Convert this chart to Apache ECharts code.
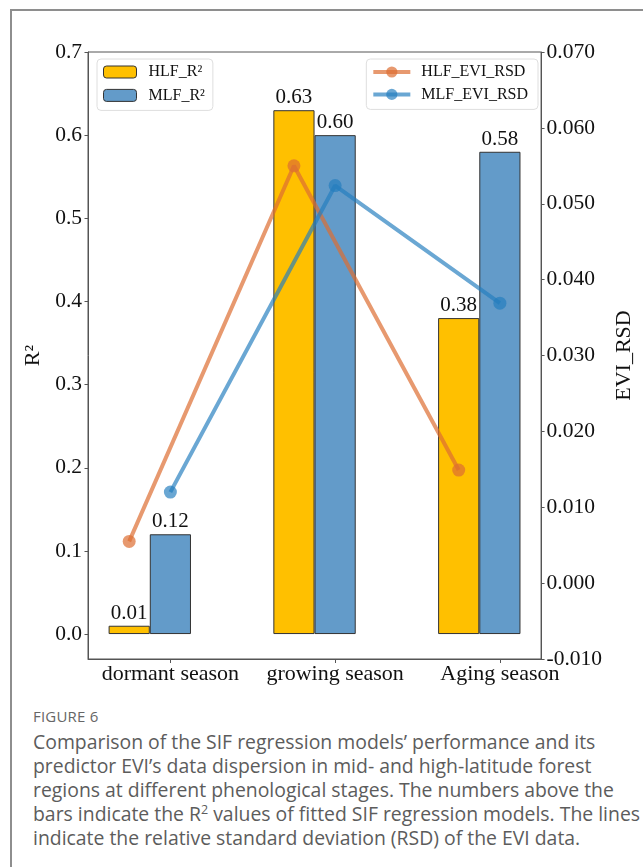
<!DOCTYPE html>
<html>
<head>
<meta charset="utf-8">
<script src="https://cdn.jsdelivr.net/npm/echarts@6/dist/echarts.min.js"></script>
<style>
  html, body { margin: 0; padding: 0; background: #fff; }
  #page { position: relative; width: 643px; height: 867px; overflow: hidden; }
  #frame { position: absolute; left: 10px; top: 9px; width: 700px; height: 900px;
           border-left: 2px solid #8e8e8e; border-top: 2px solid #8e8e8e; }
  #chart { position: absolute; left: 0; top: 0; width: 643px; height: 700px; }
  #caption { position: absolute; left: 33px; top: 706px; width: 610px;
             font-family: 'Open Sans', sans-serif; color: #5c5c5c; }
  #caption .fig { font-size: 15px; line-height: 21px; color: #666; letter-spacing: 0.2px; }
  #caption .txt { font-size: 19.4px; line-height: 23.9px; margin-top: 3px; white-space: nowrap; }
  #caption sup { font-size: 12.5px; line-height: 0; }
</style>
</head>
<body>
<div id="page">
  <div id="frame"></div>
  <div id="chart"></div>
  <div id="caption">
    <div class="fig">FIGURE 6</div>
    <div class="txt">Comparison of the SIF regression models’ performance and its<br>predictor EVI’s data dispersion in mid- and high-latitude forest<br>regions at different phenological stages. The numbers above the<br>bars indicate the R<sup>2</sup> values of fitted SIF regression models. The lines<br>indicate the relative standard deviation (RSD) of the EVI data.</div>
  </div>
</div>
<script>
// Phenological stages along the x axis
const categories = ['dormant season', 'growing season', 'Aging season'];

// R² of the SIF regression models (bars, left axis)
const hlfR2 = [0.01, 0.63, 0.38];
const mlfR2 = [0.12, 0.60, 0.58];

// Relative standard deviation of EVI (lines, right axis)
const hlfEviRsd = [0.0055, 0.0550, 0.0149];
const mlfEviRsd = [0.0120, 0.0524, 0.0369];

// Tick values for the left axis
const r2Ticks = [0, 0.1, 0.2, 0.3, 0.4, 0.5, 0.6, 0.7];
const categoryTicks = categories.map((c, i) => i);

// Bars of one group sit side by side; the MLF bar is centred on the tick
const groupShift = -0.125;
const hlfShift = -0.25;

const serif = "'Liberation Serif', 'DejaVu Serif', serif";
const axisColor = '#555';
const textColor = '#111';

const chart = echarts.init(document.getElementById('chart'), null, { renderer: 'canvas' });

const barLabel = {
  show: true,
  position: 'top',
  distance: 2,
  fontFamily: serif,
  fontSize: 21,
  color: textColor,
  formatter: p => p.value[1].toFixed(2)
};

chart.setOption({
  animation: false,
  backgroundColor: 'transparent',
  grid: {
    left: 88, right: 96, top: 52, bottom: 41,
    show: true, borderColor: axisColor, borderWidth: 1
  },
  legend: [
    {
      data: ['HLF_R²', 'MLF_R²'],
      orient: 'vertical',
      left: 97, top: 59,
      itemWidth: 33, itemHeight: 12, itemGap: 5.4,
      padding: [4, 8, 6, 6],
      borderColor: '#dedede', borderWidth: 1, borderRadius: 4,
      backgroundColor: 'rgba(255,255,255,0.85)',
      itemStyle: { borderColor: '#333', borderWidth: 1 },
      textStyle: { fontFamily: serif, fontSize: 16, color: textColor, lineHeight: 18, padding: [0, 0, 0, 7] }
    },
    {
      data: ['HLF_EVI_RSD', 'MLF_EVI_RSD'],
      orient: 'vertical',
      right: 105, top: 59,
      itemWidth: 37, itemHeight: 14, itemGap: 4.4,
      padding: [4, 10, 6, 5],
      borderColor: '#dedede', borderWidth: 1, borderRadius: 4,
      backgroundColor: 'rgba(255,255,255,0.85)',
      lineStyle: { width: 4 },
      textStyle: { fontFamily: serif, fontSize: 16, color: textColor, lineHeight: 18, padding: [0, 0, 0, 6] }
    }
  ],
  xAxis: {
    type: 'value',
    min: -0.5, max: 2.25,
    splitLine: { show: false },
    axisLine: { show: true, onZero: false, lineStyle: { color: axisColor, width: 1 } },
    axisTick: { show: true, length: 4, customValues: categoryTicks, lineStyle: { color: axisColor } },
    axisLabel: {
      customValues: categoryTicks,
      margin: 4,
      fontFamily: serif, fontSize: 22, color: textColor,
      formatter: v => categories[Math.round(v)]
    }
  },
  yAxis: [
    {
      type: 'value',
      min: -0.03, max: 0.7,
      name: 'R²',
      nameLocation: 'middle',
      nameGap: 42,
      nameRotate: 90,
      nameTextStyle: { fontFamily: serif, fontSize: 22, color: textColor },
      splitLine: { show: false },
      axisLine: { show: true, onZero: false, lineStyle: { color: axisColor, width: 1 } },
      axisTick: { show: true, length: 3.5, customValues: r2Ticks, lineStyle: { color: axisColor } },
      axisLabel: {
        customValues: r2Ticks,
        margin: 6,
        fontFamily: serif, fontSize: 21.5, color: textColor,
        formatter: v => v.toFixed(1)
      }
    },
    {
      type: 'value',
      position: 'right',
      min: -0.01, max: 0.07, interval: 0.01,
      name: 'EVI_RSD',
      nameLocation: 'middle',
      nameGap: 66,
      nameRotate: 90,
      nameTextStyle: { fontFamily: serif, fontSize: 22, color: textColor },
      splitLine: { show: false },
      axisLine: { show: true, onZero: false, lineStyle: { color: axisColor, width: 1 } },
      axisTick: { show: true, length: 3.5, lineStyle: { color: axisColor } },
      axisLabel: {
        margin: 5.5,
        fontFamily: serif, fontSize: 21.5, color: textColor,
        formatter: v => v.toFixed(3)
      }
    }
  ],
  series: [
    {
      name: 'HLF_R²',
      type: 'bar',
      yAxisIndex: 0,
      barWidth: '25%',
      barGap: '0%',
      itemStyle: { color: '#FFC000', borderColor: '#333', borderWidth: 1 },
      label: barLabel,
      data: hlfR2.map((v, i) => [i + groupShift, v])
    },
    {
      name: 'MLF_R²',
      type: 'bar',
      yAxisIndex: 0,
      barWidth: '25%',
      barGap: '0%',
      itemStyle: { color: '#639BC9', borderColor: '#333', borderWidth: 1 },
      label: barLabel,
      data: mlfR2.map((v, i) => [i + groupShift, v])
    },
    {
      name: 'HLF_EVI_RSD',
      type: 'line',
      yAxisIndex: 1,
      symbol: 'circle',
      symbolSize: 13,
      lineStyle: { color: 'rgba(221,110,50,0.7)', width: 4 },
      itemStyle: { color: 'rgba(221,110,50,0.7)' },
      data: hlfEviRsd.map((v, i) => [i + hlfShift, v])
    },
    {
      name: 'MLF_EVI_RSD',
      type: 'line',
      yAxisIndex: 1,
      symbol: 'circle',
      symbolSize: 13,
      lineStyle: { color: 'rgba(35,125,190,0.68)', width: 4 },
      itemStyle: { color: 'rgba(35,125,190,0.68)' },
      data: mlfEviRsd.map((v, i) => [i, v])
    }
  ]
});
</script>
</body>
</html>
